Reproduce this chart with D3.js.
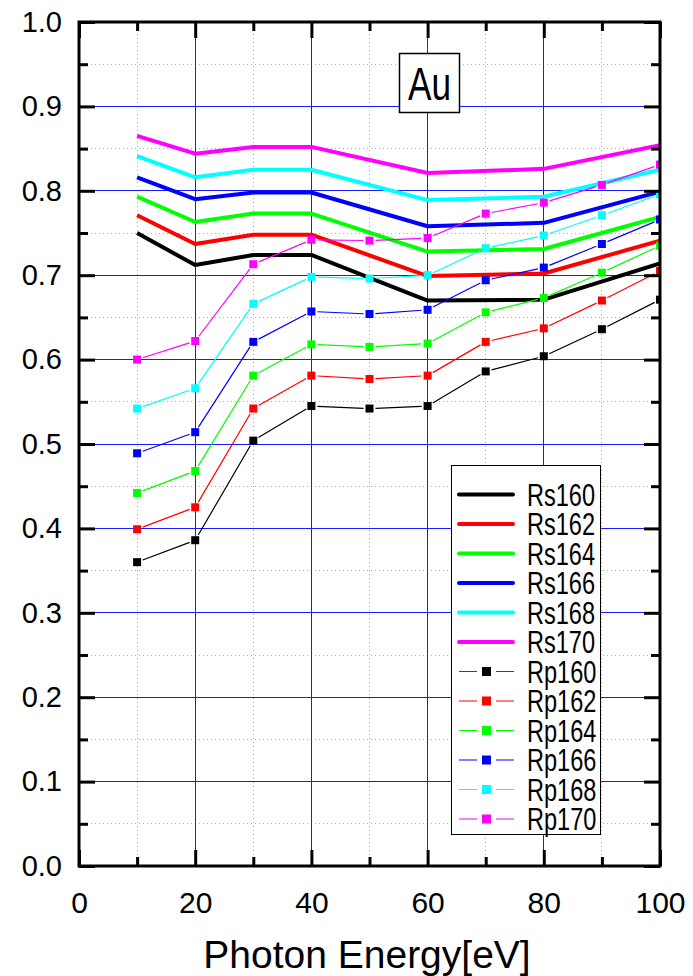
<!DOCTYPE html>
<html>
<head>
<meta charset="utf-8">
<script src="https://cdn.jsdelivr.net/npm/d3@7"></script>
<style>
  body { margin: 0; background: #fff; }
  svg { display: block; }
</style>
</head>
<body>
<svg width="693" height="976"></svg>
<script>
/////////////////////////
// data
/////////////////////////
var rsEnergy = [10, 20, 30, 40, 60, 80, 100];
var rpEnergy = [10, 20, 30, 40, 50, 60, 70, 80, 90, 100];

var rsNames = ["Rs160", "Rs162", "Rs164", "Rs166", "Rs168", "Rs170"];
var rpNames = ["Rp160", "Rp162", "Rp164", "Rp166", "Rp168", "Rp170"];
var colors = ["#000000", "#ff0000", "#00ff00", "#0000ff", "#00ffff", "#ff00ff"];

var rs160 = [0.750, 0.712, 0.724, 0.724, 0.670, 0.671, 0.714];
var rs162 = [0.771, 0.737, 0.748, 0.748, 0.699, 0.702, 0.741];
var rs164 = [0.793, 0.763, 0.773, 0.773, 0.728, 0.731, 0.769];
var rs166 = [0.816, 0.790, 0.798, 0.798, 0.758, 0.762, 0.799];
var rs168 = [0.841, 0.816, 0.825, 0.825, 0.789, 0.793, 0.825];
var rs170 = [0.865, 0.844, 0.852, 0.852, 0.821, 0.826, 0.854];

var rp160 = [0.360, 0.386, 0.504, 0.545, 0.542, 0.545, 0.586, 0.604, 0.636, 0.671];
var rp162 = [0.399, 0.425, 0.542, 0.581, 0.577, 0.581, 0.621, 0.637, 0.670, 0.705];
var rp164 = [0.442, 0.468, 0.581, 0.618, 0.615, 0.619, 0.656, 0.673, 0.703, 0.735];
var rp166 = [0.489, 0.514, 0.621, 0.657, 0.654, 0.659, 0.694, 0.709, 0.737, 0.766];
var rp168 = [0.542, 0.566, 0.666, 0.698, 0.696, 0.700, 0.732, 0.747, 0.771, 0.796];
var rp170 = [0.600, 0.622, 0.713, 0.742, 0.741, 0.744, 0.773, 0.786, 0.807, 0.831];

var rsValues = [rs160, rs162, rs164, rs166, rs168, rs170];
var rpValues = [rp160, rp162, rp164, rp166, rp168, rp170];

var xMajor = [0, 20, 40, 60, 80, 100];
var xMinor = [10, 30, 50, 70, 90];
var yMajor = [0, 0.1, 0.2, 0.3, 0.4, 0.5, 0.6, 0.7, 0.8, 0.9, 1.0];
var yMinor = [0.05, 0.15, 0.25, 0.35, 0.45, 0.55, 0.65, 0.75, 0.85, 0.95];

/////////////////////////
// layout
/////////////////////////
var pLeft = 79, pRight = 660, pTop = 22, pBottom = 866;
var svg = d3.select("svg");

var x = d3.scaleLinear().domain([0, 100]).range([pLeft, pRight]);
var y = d3.scaleLinear().domain([0, 1]).range([pBottom, pTop]);

// grid (crisp, one pixel)
var grid = svg.append("g").attr("shape-rendering", "crispEdges");
grid.selectAll(".gxm").data(xMinor).enter().append("line")
    .attr("x1", d => x(d)).attr("x2", d => x(d))
    .attr("y1", pTop).attr("y2", pBottom)
    .attr("stroke", "#55ee55").attr("stroke-width", 1)
    .attr("stroke-dasharray", "1,3");
grid.selectAll(".gym").data(yMinor).enter().append("line")
    .attr("y1", d => y(d)).attr("y2", d => y(d))
    .attr("x1", pLeft).attr("x2", pRight)
    .attr("stroke", "#55ee55").attr("stroke-width", 1)
    .attr("stroke-dasharray", "1,3");
grid.selectAll(".gx").data(xMajor.slice(1, -1)).enter().append("line")
    .attr("x1", d => x(d)).attr("x2", d => x(d))
    .attr("y1", pTop).attr("y2", pBottom)
    .attr("stroke", "#1a1aff").attr("stroke-width", 1);
grid.selectAll(".gy").data(yMajor.slice(1, -1)).enter().append("line")
    .attr("y1", d => y(d)).attr("y2", d => y(d))
    .attr("x1", pLeft).attr("x2", pRight)
    .attr("stroke", "#1a1aff").attr("stroke-width", 1);

// clip to plot area
svg.append("clipPath").attr("id", "plotclip")
    .append("rect").attr("x", pLeft).attr("y", pTop)
    .attr("width", pRight - pLeft).attr("height", pBottom - pTop);

var plot = svg.append("g").attr("clip-path", "url(#plotclip)");

// Rs : thick lines
var line = d3.line().x(d => x(d[0])).y(d => y(d[1]));
rsValues.forEach(function(vals, i) {
    plot.append("path")
        .datum(rsEnergy.map((e, j) => [e, vals[j]]))
        .attr("d", line)
        .attr("fill", "none")
        .attr("stroke", colors[i])
        .attr("stroke-width", 4)
        .attr("stroke-linejoin", "round");
});

// Rp : thin lines with a gap at every marker, square markers
var gap = 6, ms = 8;
rpValues.forEach(function(vals, i) {
    var pts = rpEnergy.map((e, j) => [x(e), y(vals[j])]);
    var segs = d3.pairs(pts).map(function(p) {
        var dx = p[1][0] - p[0][0], dy = p[1][1] - p[0][1];
        var L = Math.sqrt(dx * dx + dy * dy);
        var ux = dx / L, uy = dy / L;
        return [p[0][0] + ux * gap, p[0][1] + uy * gap, p[1][0] - ux * gap, p[1][1] - uy * gap];
    });
    var g = plot.append("g");
    g.selectAll("line").data(segs).enter().append("line")
        .attr("x1", d => d[0]).attr("y1", d => d[1])
        .attr("x2", d => d[2]).attr("y2", d => d[3])
        .attr("stroke", colors[i]).attr("stroke-width", 1.2);
    g.selectAll("rect").data(pts).enter().append("rect")
        .attr("x", d => d[0] - ms / 2).attr("y", d => d[1] - ms / 2)
        .attr("width", ms).attr("height", ms)
        .attr("fill", colors[i]);
});

// axes (ticks inward on all four sides)
function styleAxis(g) {
    g.select(".domain").remove();
    g.selectAll(".tick line").attr("stroke", "#000").attr("stroke-width", 3);
}
var fontTick = "'Liberation Sans', Arial, sans-serif";

svg.append("g").attr("transform", "translate(0," + pBottom + ")")
    .call(d3.axisBottom(x).tickValues(xMajor).tickSizeInner(-16).tickSizeOuter(0)
        .tickPadding(26).tickFormat(d3.format("d")))
    .call(styleAxis)
    .selectAll("text").attr("font-size", 30).attr("font-family", fontTick).attr("fill", "#000");
svg.append("g").attr("transform", "translate(0," + pBottom + ")")
    .call(d3.axisBottom(x).tickValues(xMinor).tickSizeInner(-9).tickSizeOuter(0).tickFormat(""))
    .call(styleAxis);
svg.append("g").attr("transform", "translate(0," + pTop + ")")
    .call(d3.axisTop(x).tickValues(xMajor).tickSizeInner(-16).tickSizeOuter(0).tickFormat(""))
    .call(styleAxis);
svg.append("g").attr("transform", "translate(0," + pTop + ")")
    .call(d3.axisTop(x).tickValues(xMinor).tickSizeInner(-9).tickSizeOuter(0).tickFormat(""))
    .call(styleAxis);

svg.append("g").attr("transform", "translate(" + pLeft + ",0)")
    .call(d3.axisLeft(y).tickValues(yMajor).tickSizeInner(-16).tickSizeOuter(0)
        .tickPadding(17).tickFormat(d3.format(".1f")))
    .call(styleAxis)
    .selectAll("text").attr("font-size", 29).attr("font-family", fontTick).attr("fill", "#000");
svg.append("g").attr("transform", "translate(" + pLeft + ",0)")
    .call(d3.axisLeft(y).tickValues(yMinor).tickSizeInner(-9).tickSizeOuter(0).tickFormat(""))
    .call(styleAxis);
svg.append("g").attr("transform", "translate(" + pRight + ",0)")
    .call(d3.axisRight(y).tickValues(yMajor).tickSizeInner(-16).tickSizeOuter(0).tickFormat(""))
    .call(styleAxis);
svg.append("g").attr("transform", "translate(" + pRight + ",0)")
    .call(d3.axisRight(y).tickValues(yMinor).tickSizeInner(-9).tickSizeOuter(0).tickFormat(""))
    .call(styleAxis);

// frame
svg.append("rect")
    .attr("x", pLeft).attr("y", pTop)
    .attr("width", pRight - pLeft).attr("height", pBottom - pTop)
    .attr("fill", "none").attr("stroke", "#000").attr("stroke-width", 3);

// axis title
svg.append("text")
    .attr("x", 367).attr("y", 968)
    .attr("text-anchor", "middle")
    .attr("font-family", fontTick)
    .attr("font-size", 39)
    .attr("fill", "#000")
    .text("Photon Energy[eV]");

// "Au" label (narrow gothic look: squeeze Liberation Sans)
svg.append("rect")
    .attr("x", 399.5).attr("y", 53.5).attr("width", 60).attr("height", 59)
    .attr("fill", "#fff").attr("stroke", "#000").attr("stroke-width", 1.5);
svg.append("text")
    .attr("transform", "translate(429.5,100) scale(0.75,1)")
    .attr("text-anchor", "middle")
    .attr("font-family", fontTick)
    .attr("font-size", 47)
    .attr("fill", "#000")
    .text("Au");

/////////////////////////
// legend
/////////////////////////
var legend = svg.append("g");
legend.append("rect")
    .attr("x", 451.5).attr("y", 465.5).attr("width", 149).attr("height", 369)
    .attr("fill", "#fff").attr("stroke", "#000").attr("stroke-width", 1);

var legendItems = rsNames.map((n, i) => ({name: n, color: colors[i], type: "rs"}))
    .concat(rpNames.map((n, i) => ({name: n, color: colors[i], type: "rp"})));

var rowY = d3.scaleLinear().domain([0, 11]).range([494.5, 819]);

var item = legend.selectAll(".item").data(legendItems).enter().append("g")
    .attr("class", "item")
    .attr("transform", (d, i) => "translate(0," + rowY(i) + ")");

item.filter(d => d.type === "rs").append("line")
    .attr("x1", 459).attr("x2", 513).attr("y1", 0).attr("y2", 0)
    .attr("stroke", d => d.color).attr("stroke-width", 4)
    .attr("stroke-linecap", "round");
item.filter(d => d.type === "rp").append("line")
    .attr("x1", 459).attr("x2", 477).attr("y1", 0).attr("y2", 0)
    .attr("stroke", d => d.color === "#000000" ? "#444" : d.color).attr("stroke-width", 1);
item.filter(d => d.type === "rp").append("line")
    .attr("x1", 496).attr("x2", 514).attr("y1", 0).attr("y2", 0)
    .attr("stroke", d => d.color === "#000000" ? "#444" : d.color).attr("stroke-width", 1);
item.filter(d => d.type === "rp").append("rect")
    .attr("x", 482).attr("y", -4.5).attr("width", 9).attr("height", 9)
    .attr("fill", d => d.color);

item.append("text")
    .attr("transform", "translate(527,11) scale(0.76,1)")
    .attr("font-family", fontTick)
    .attr("font-size", 31)
    .attr("fill", "#000")
    .text(d => d.name);
</script>
</body>
</html>
